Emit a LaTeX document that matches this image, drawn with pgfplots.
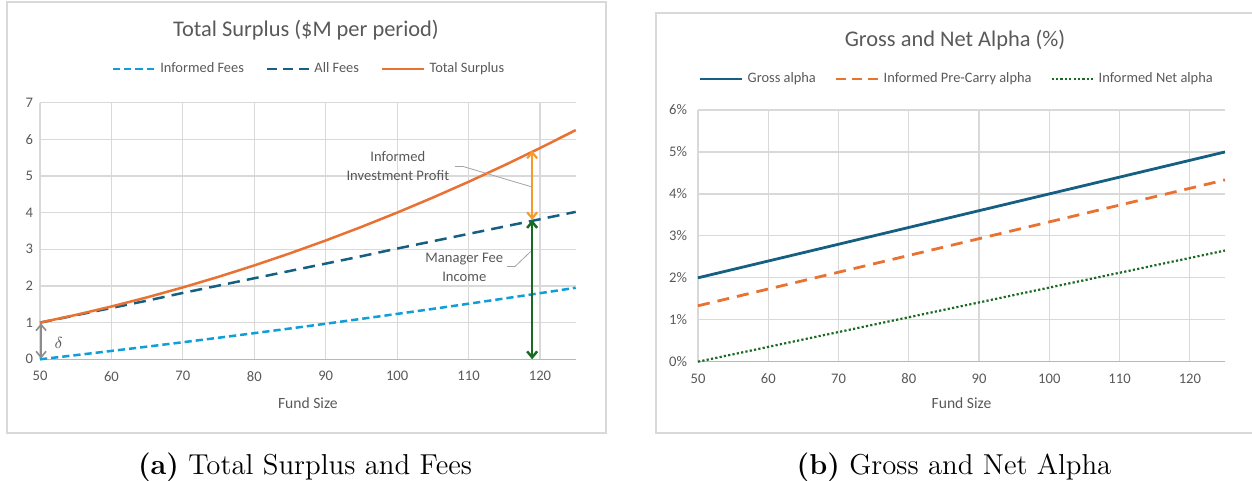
\documentclass[border=0pt]{standalone}
\usepackage{fontspec}
\newfontfamily\xl{Carlito}
\usepackage{pgfplots}
\usepackage{pgfplotstable}
\pgfplotsset{compat=1.18}
\usetikzlibrary{arrows.meta}
\definecolor{txt}{HTML}{595959}
\definecolor{grd}{HTML}{D9D9D9}
\definecolor{lblue}{HTML}{0F9ED5}
\definecolor{dblue}{HTML}{156082}
\definecolor{orng}{HTML}{E97132}
\definecolor{lorng}{HTML}{F79A2C}
\definecolor{dgreen}{HTML}{196B24}
\definecolor{agray}{HTML}{8C8C8C}

\pgfplotstableread{
x inf all tot
50 0.000 1.00 1.00
55 0.113 1.20 1.21
60 0.228 1.40 1.44
65 0.345 1.60 1.69
70 0.465 1.81 1.96
75 0.588 2.01 2.25
80 0.713 2.21 2.56
85 0.840 2.41 2.89
90 0.970 2.61 3.24
95 1.103 2.81 3.61
100 1.238 3.02 4.00
105 1.375 3.22 4.41
110 1.515 3.42 4.84
115 1.658 3.62 5.29
120 1.803 3.82 5.76
125 1.950 4.02 6.25
}\leftdata

\pgfplotstableread{
x gross pre net
50 2.00 1.333 0.000
60 2.40 1.733 0.353
70 2.80 2.133 0.707
80 3.20 2.533 1.060
90 3.60 2.933 1.413
100 4.00 3.333 1.767
110 4.40 3.733 2.120
120 4.80 4.133 2.473
125 5.00 4.333 2.650
}\rightdata

\tikzset{barb/.style={arrows={Straight Barb[length=3pt,width=5pt]-Straight Barb[length=3pt,width=5pt]}}}

\pgfplotsset{excel/.style={
  scale only axis, xmin=50, xmax=125, xtick={50,60,...,120},
  grid=major, major grid style={grd, line width=0.6pt},
  axis line style={draw=none}, tick style={draw=none},
  /pgf/number format/assume math mode=true,
  ticklabel style={font=\xl\fontsize{7.3}{8}\selectfont, text=txt},
  xticklabel style={yshift=-2.5pt},
  xlabel={Fund Size}, label style={font=\xl\fontsize{7.8}{9}\selectfont, text=txt},
  legend style={draw=none, fill=none, font=\xl\fontsize{7.2}{8}\selectfont, text=txt,
    legend columns=3, anchor=center},
  legend image code/.code={\draw[##1] (0pt,0pt) -- (21pt,0pt);},
  clip=false,
}}

\begin{document}
\begin{tikzpicture}
% frames
\draw[grd, line width=0.8pt] (3.5pt,-1pt) rectangle (303pt,-216.5pt);
\draw[grd, line width=0.8pt] (627pt,-6.5pt) -- (328pt,-6.5pt) -- (328pt,-216.5pt) -- (627pt,-216.5pt);

% left chart
\begin{axis}[excel, at={(20pt,-179.65pt)}, anchor=south west,
  width=267.85pt, height=128.35pt, ymin=0, ymax=7, ytick={0,1,...,7},
  legend style={at={(axis description cs:0.504,1.131)},
    /tikz/every even column/.append style={column sep=9pt}},
  xlabel style={at={(axis description cs:0.5,-0.170)}, anchor=center}]
\draw[black!28, line width=0.7pt] (axis cs:50,0) -- (axis cs:125,0);
\addplot[lblue, line width=1.25pt, dash pattern=on 3.6pt off 2pt] table[x=x,y=inf] {\leftdata};
\addlegendentry{Informed Fees}
\addplot[dblue, line width=1.25pt, dash pattern=on 6pt off 3.6pt,
  legend image post style={dash pattern=on 5pt off 3pt}] table[x=x,y=all] {\leftdata};
\addlegendentry{All Fees}
\addplot[orng, line width=1.25pt] table[x=x,y=tot] {\leftdata};
\addlegendentry{Total Surplus}
\addplot[lorng, line width=1.1pt, barb, forget plot] coordinates {(118.9,3.80) (118.9,5.69)};
\addplot[dgreen, line width=1.25pt, barb, forget plot] coordinates {(118.9,0) (118.9,3.80)};
\addplot[agray, line width=0.8pt, barb, forget plot] coordinates {(50.15,0.02) (50.15,0.98)};
\addplot[agray!80, line width=0.4pt, forget plot] coordinates {(108.1,5.26) (109.2,5.26) (118.7,4.71)};
\addplot[agray!80, line width=0.4pt, forget plot] coordinates {(115.4,2.53) (116.5,2.53) (118.7,2.94)};
\node[align=center, font=\xl\fontsize{7.3}{9.5}\selectfont, text=txt] at (axis cs:100.1,5.26) {Informed\\Investment Profit};
\node[align=center, font=\xl\fontsize{7.3}{9.5}\selectfont, text=txt] at (axis cs:109.4,2.51) {Manager Fee\\Income};
\node[text=txt, font=\fontsize{8}{9}\selectfont] at (axis cs:52.6,0.44) {$\delta$};
\end{axis}
\node[font=\xl\fontsize{11.2}{13}\selectfont, text=txt] at (153pt,-15pt) {Total Surplus (\$M per period)};

% right chart
\begin{axis}[excel, at={(349pt,-180.85pt)}, anchor=south west,
  width=263.5pt, height=125.85pt, ymin=0, ymax=6, ytick={0,1,...,6},
  yticklabel={\pgfmathprintnumber{\tick}\%},
  yticklabel style={xshift=-2pt},
  legend style={at={(axis description cs:0.493,1.123)},
    /tikz/every even column/.append style={column sep=7.5pt}},
  xlabel style={at={(axis description cs:0.5,-0.164)}, anchor=center}]
\draw[black!28, line width=0.7pt] (axis cs:50,0) -- (axis cs:125,0);
\addplot[dblue, line width=1.4pt] table[x=x,y=gross] {\rightdata};
\addlegendentry{Gross alpha}
\addplot[orng, line width=1.4pt, dash pattern=on 6pt off 4pt,
  legend image post style={dash pattern=on 5pt off 3pt}] table[x=x,y=pre] {\rightdata};
\addlegendentry{Informed Pre-Carry alpha}
\addplot[dgreen, line width=1.1pt, dash pattern=on 1.1pt off 1.1pt] table[x=x,y=net] {\rightdata};
\addlegendentry{Informed Net alpha}
\end{axis}
\node[font=\xl\fontsize{11.2}{13}\selectfont, text=txt] at (477.5pt,-20pt) {Gross and Net Alpha (\%)};

% captions
\node[font=\fontsize{14.4}{16}\selectfont] at (152.5pt,-233.5pt) {\textbf{(a)} Total Surplus and Fees};
\node[font=\fontsize{14.4}{16}\selectfont] at (477pt,-233.5pt) {\textbf{(b)} Gross and Net Alpha};

\pgfresetboundingbox
\path[use as bounding box] (0,0) rectangle (626pt,-240.5pt);
\end{tikzpicture}
\end{document}
